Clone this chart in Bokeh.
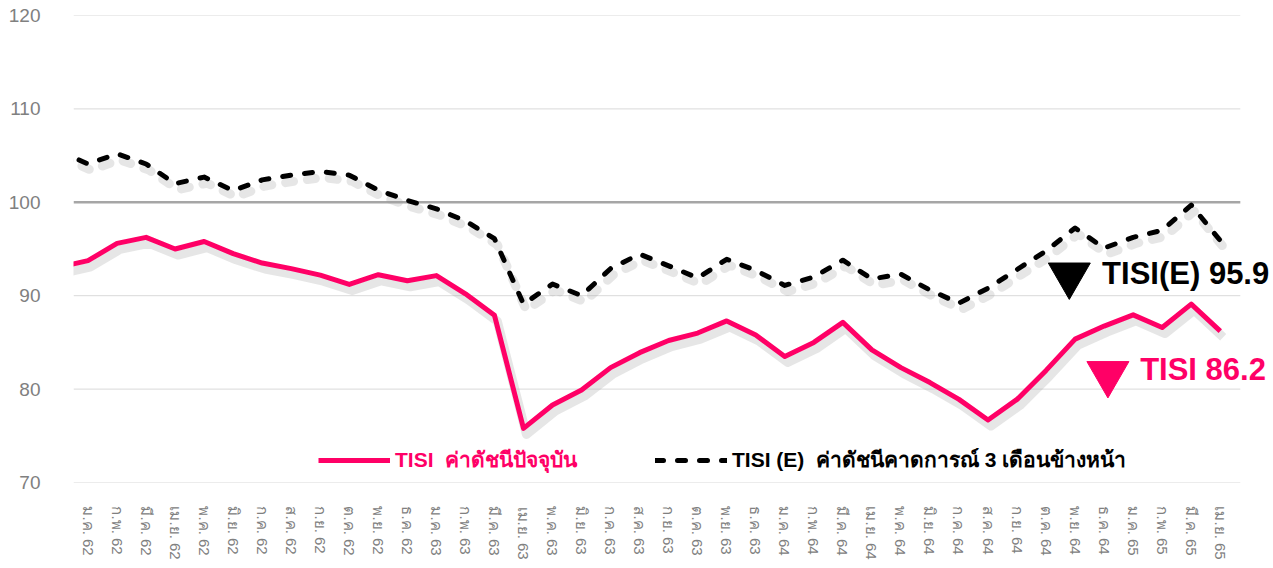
from bokeh.plotting import figure
from bokeh.models import FixedTicker, Legend, LegendItem, Label, Range1d
from bokeh.embed import file_html
from bokeh.resources import INLINE
from bokeh.core.properties import value

# ---------------- data ----------------
months = [
    "ม.ค. 62", "ก.พ. 62", "มี.ค. 62", "เม.ย. 62", "พ.ค. 62", "มิ.ย. 62",
    "ก.ค. 62", "ส.ค. 62", "ก.ย. 62", "ต.ค. 62", "พ.ย. 62", "ธ.ค. 62",
    "ม.ค. 63", "ก.พ. 63", "มี.ค. 63", "เม.ย. 63", "พ.ค. 63", "มิ.ย. 63",
    "ก.ค. 63", "ส.ค. 63", "ก.ย. 63", "ต.ค. 63", "พ.ย. 63", "ธ.ค. 63",
    "ม.ค. 64", "ก.พ. 64", "มี.ค. 64", "เม.ย. 64", "พ.ค. 64", "มิ.ย. 64",
    "ก.ค. 64", "ส.ค. 64", "ก.ย. 64", "ต.ค. 64", "พ.ย. 64", "ธ.ค. 64",
    "ม.ค. 65", "ก.พ. 65", "มี.ค. 65", "เม.ย. 65",
]
tisi = [
    93.75, 95.6, 96.25, 95.0, 95.8, 94.5, 93.5, 92.9, 92.2, 91.2, 92.25, 91.6,
    92.15, 90.2, 87.9, 75.8, 78.3, 79.9, 82.3, 83.9, 85.2, 86.0, 87.3, 85.8,
    83.5, 85.0, 87.15, 84.2, 82.3, 80.7, 78.9, 76.7, 78.9, 82.0, 85.35, 86.75,
    87.95, 86.6, 89.1, 86.2,
]
tisi_e = [
    104.1, 105.2, 104.1, 102.0, 102.7, 101.25, 102.4, 102.9, 103.3, 102.9, 101.3, 100.2,
    99.3, 98.0, 96.1, 89.1, 91.25, 90.0, 92.9, 94.45, 93.2, 91.9, 93.9, 92.7,
    91.1, 92.0, 93.8, 91.8, 92.3, 90.6, 89.2, 90.8, 92.8, 94.8, 97.25, 95.1,
    96.25, 97.0, 99.7, 95.9,
]
# previous month (ธ.ค. 61), only partly visible at the left edge
tisi_prev = 93.05
tisi_e_prev = 105.5
y_ticks = [70, 80, 90, 100, 110, 120]

legend_tisi = "TISI  ค่าดัชนีปัจจุบัน"
legend_tisi_e = "TISI (E)  ค่าดัชนีคาดการณ์ 3 เดือนข้างหน้า"

# ---------------- styles ----------------
PINK = "#ff0066"
GREY_TXT = "#808080"
FONT = "Liberation Sans"
GRID_X0, GRID_X1 = -0.5, 39.69   # extent of the plotting area's gridlines

xs = list(range(-1, len(months)))
y1 = [tisi_prev] + tisi
y2 = [tisi_e_prev] + tisi_e

p = figure(width=1273, height=568, output_backend="svg", toolbar_location=None,
           x_range=Range1d(-0.5, 40.73), y_range=Range1d(70, 120),
           min_border_left=73, min_border_right=3, min_border_top=15,
           min_border_bottom=86)
p.outline_line_color = None
p.background_fill_color = "white"
p.border_fill_color = "white"
p.xgrid.visible = False
p.ygrid.visible = False

# axes
p.yaxis.ticker = FixedTicker(ticks=y_ticks)
p.yaxis.axis_line_color = None
p.yaxis.major_tick_line_color = None
p.yaxis.minor_tick_line_color = None
p.yaxis.major_label_text_font = FONT
p.yaxis.major_label_text_font_size = "19px"
p.yaxis.major_label_text_color = GREY_TXT
p.yaxis.major_label_standoff = 27

p.xaxis.ticker = FixedTicker(ticks=list(range(len(months))))
p.xaxis.major_label_overrides = {i: m for i, m in enumerate(months)}
p.xaxis.major_label_orientation = "vertical"
p.xaxis.axis_line_color = None
p.xaxis.major_tick_line_color = None
p.xaxis.minor_tick_line_color = None
p.xaxis.major_label_text_font = FONT
p.xaxis.major_label_text_font_size = "15px"
p.xaxis.major_label_text_color = GREY_TXT
p.xaxis.major_label_standoff = 18

# gridlines (limited to the plotting area; the 100 line is darker)
grid_y = [t for t in y_ticks if t != 100]
p.segment(x0=GRID_X0, x1=GRID_X1, y0=grid_y, y1=grid_y, line_color="#d9d9d9", line_width=1)
p.segment(x0=GRID_X0, x1=GRID_X1, y0=[100], y1=[100], line_color="#a6a6a6", line_width=2.5)

# shadows
sdx, sdy = 0.1, -0.65
p.line([v + sdx for v in xs], [v + sdy for v in y1], line_color="#9a9a9a",
       line_alpha=0.25, line_width=9, line_join="round")
p.line([v + sdx for v in xs], [v + sdy for v in y2], line_color="#9a9a9a",
       line_alpha=0.25, line_width=9, line_dash="8 14", line_cap="round", line_join="round")

# main lines
r1 = p.line(xs, y1, line_color=PINK, line_width=5, line_join="round")
r2 = p.line(xs, y2, line_color="black", line_width=5, line_dash="8 14",
            line_cap="round", line_join="round")

# legends (separate so each can have its own text colour)
common = dict(orientation="horizontal", glyph_width=72, glyph_height=20,
              label_text_font=FONT, label_text_font_style="bold",
              label_text_font_size="21px", background_fill_alpha=0,
              border_line_alpha=0, padding=0, margin=0, label_standoff=5,
              label_height=20)
leg1 = Legend(items=[LegendItem(label=value(legend_tisi), renderers=[r1])],
              location=(245, 6), label_text_color=PINK, **common)
leg2 = Legend(items=[LegendItem(label=value(legend_tisi_e), renderers=[r2])],
              location=(582, 6), label_text_color="black", **common)
p.add_layout(leg1)
p.add_layout(leg2)

# end-value markers
p.scatter([33.8], [92.2], marker="inverted_triangle", size=42, color="black")
p.scatter([35.13], [81.65], marker="inverted_triangle", size=42, color=PINK)
p.add_layout(Label(x=34.93, y=92.36, text=f"TISI(E) {tisi_e[-1]}",
                   text_font=FONT, text_font_style="bold", text_font_size="31px",
                   text_baseline="middle", text_color="black"))
p.add_layout(Label(x=36.24, y=82.1, text=f"TISI {tisi[-1]}",
                   text_font=FONT, text_font_style="bold", text_font_size="31px",
                   text_baseline="middle", text_color=PINK))

open("out.html", "w").write(file_html(p, INLINE))
